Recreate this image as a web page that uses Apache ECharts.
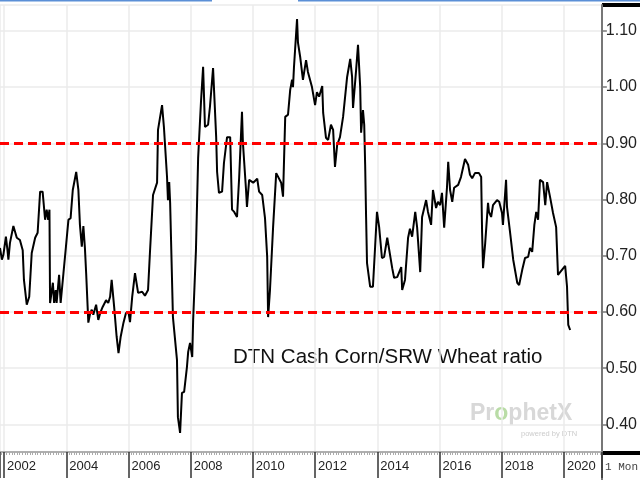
<!DOCTYPE html>
<html>
<head>
<meta charset="utf-8">
<script src="https://cdn.jsdelivr.net/npm/echarts@6/dist/echarts.min.js"></script>
<style>
html,body{margin:0;padding:0;background:#fff;}
#c{width:640px;height:480px;}
</style>
</head>
<body>
<div id="c"></div>
<script>
// Dates as decimal years
const dates = [
  2001.87,2001.93,2001.98,2002.06,2002.11,2002.14,2002.19,2002.30,2002.41,2002.51,2002.60,2002.64,2002.73,2002.81,2002.89,
  2003.00,2003.08,2003.16,2003.24,2003.32,2003.37,2003.42,2003.46,2003.48,2003.57,2003.61,2003.66,2003.69,2003.77,2003.82,2003.91,2003.99,
  2004.07,2004.14,2004.21,2004.32,2004.39,2004.44,2004.50,2004.55,2004.60,2004.64,2004.71,2004.77,2004.82,2004.87,2004.96,
  2005.03,2005.09,2005.17,2005.28,2005.35,2005.41,2005.46,2005.54,2005.62,2005.68,2005.75,2005.84,2005.92,2006.00,
  2006.05,2006.12,2006.21,2006.31,2006.44,2006.53,2006.63,2006.69,2006.79,2006.92,2006.95,
  2007.08,2007.14,2007.24,2007.27,2007.31,2007.34,2007.43,2007.56,2007.59,2007.66,2007.72,2007.79,2007.88,2007.92,2007.98,
  2008.05,2008.08,2008.17,2008.24,2008.33,2008.40,2008.46,2008.56,2008.62,2008.72,2008.82,2008.85,2008.91,
  2009.01,2009.07,2009.17,2009.27,2009.33,2009.40,2009.49,2009.56,2009.65,2009.68,2009.78,2009.81,2009.88,2010.01,
  2010.14,2010.20,2010.30,2010.39,2010.46,2010.49,2010.55,2010.65,2010.75,2010.81,2010.91,2010.97,
  2011.04,2011.13,2011.20,2011.26,2011.29,2011.32,2011.42,2011.45,2011.52,2011.61,2011.71,2011.77,2011.90,
  2012.00,2012.06,2012.13,2012.23,2012.26,2012.35,2012.42,2012.51,2012.58,2012.64,2012.71,2012.80,2012.90,
  2013.03,2013.13,2013.19,2013.22,2013.32,2013.38,2013.45,2013.48,2013.54,2013.58,2013.61,2013.64,2013.67,2013.77,2013.86,2013.93,2013.99,
  2014.06,2014.15,2014.22,2014.32,2014.38,2014.48,2014.54,2014.64,2014.70,2014.77,2014.80,2014.89,2014.99,
  2015.05,2015.12,2015.22,2015.28,2015.38,2015.44,2015.57,2015.63,2015.73,2015.79,2015.89,2015.95,
  2016.02,2016.08,2016.15,2016.24,2016.28,2016.34,2016.41,2016.47,2016.60,2016.69,2016.82,2016.92,2016.98,
  2017.05,2017.14,2017.27,2017.34,2017.37,2017.40,2017.47,2017.56,2017.59,2017.66,2017.72,2017.85,2017.92,
  2018.01,2018.04,2018.14,2018.17,2018.27,2018.37,2018.50,2018.56,2018.66,2018.75,2018.85,2018.91,2018.98,
  2019.05,2019.11,2019.17,2019.23,2019.33,2019.40,2019.46,2019.56,2019.65,2019.75,2019.81,2019.88,2019.94,
  2020.04,2020.10,2020.14,2020.20
];
// DTN cash corn / SRW wheat ratio
const ratio = [
  0.714,0.693,0.702,0.734,0.710,0.693,0.723,0.753,0.732,0.728,0.710,0.657,0.613,0.627,0.705,
  0.732,0.741,0.814,0.814,0.764,0.782,0.764,0.782,0.616,0.652,0.616,0.639,0.616,0.666,0.616,0.669,0.716,
  0.764,0.767,0.817,0.849,0.817,0.755,0.716,0.753,0.714,0.669,0.581,0.598,0.604,0.595,0.613,
  0.586,0.598,0.609,0.621,0.616,0.627,0.657,0.609,0.556,0.527,0.556,0.581,0.598,0.600,
  0.582,0.627,0.669,0.634,0.636,0.629,0.639,0.705,0.808,0.830,0.924,
  0.968,0.929,0.840,0.799,0.831,0.794,0.591,0.515,0.413,0.385,0.456,0.458,0.502,0.529,0.545,
  0.520,0.586,0.710,0.874,0.972,1.036,0.929,0.933,0.965,1.034,0.911,0.849,0.812,
  0.814,0.865,0.911,0.911,0.782,0.778,0.769,0.840,0.956,0.901,0.817,0.787,0.835,0.830,
  0.837,0.814,0.808,0.767,0.698,0.591,0.639,0.751,0.847,0.847,0.830,0.805,
  0.947,0.951,0.995,1.013,1.000,1.034,1.121,1.079,1.054,1.013,1.048,1.027,1.000,
  0.968,0.991,0.983,1.002,0.954,0.910,0.906,0.933,0.924,0.858,0.897,0.911,0.947,
  1.018,1.050,1.018,0.963,1.031,1.075,1.000,0.919,0.959,0.933,0.862,0.769,0.687,0.645,0.645,0.716,0.778,
  0.751,0.696,0.698,0.732,0.732,0.678,0.661,0.662,0.661,0.680,0.639,0.657,0.732,
  0.748,0.734,0.778,0.751,0.671,0.769,0.799,0.778,0.755,0.817,0.785,0.796,
  0.790,0.812,0.750,0.821,0.867,0.817,0.796,0.821,0.826,0.840,0.872,0.862,0.844,
  0.838,0.847,0.847,0.840,0.741,0.678,0.723,0.794,0.778,0.769,0.790,0.799,0.796,
  0.776,0.755,0.835,0.787,0.741,0.693,0.652,0.648,0.675,0.696,0.698,0.714,0.707,
  0.755,0.778,0.764,0.835,0.831,0.790,0.831,0.803,0.776,0.751,0.666,0.671,0.669,
  0.682,0.645,0.577,0.568
];
const refLines = [0.90, 0.60];
const chartLabel = 'DTN Cash Corn/SRW Wheat ratio';
const periodLabel = '1 Mon';

const narrow = "'Liberation Sans Narrow','Arial Narrow','Liberation Sans',Arial,sans-serif";
const lastVal = ratio[ratio.length - 1];

const chart = echarts.init(document.getElementById('c'));
const markData = refLines.map(v => ({
  yAxis: v,
  lineStyle: {color: '#ff0000', type: [9, 5], width: 3},
  label: {show: false}
}));
markData.push({
  yAxis: lastVal,
  lineStyle: {opacity: 0, width: 0},
  label: {
    show: true, position: 'end', distance: 1,
    formatter: () => lastVal.toFixed(2),
    backgroundColor: '#000', color: '#fff',
    fontFamily: narrow, fontSize: 16, padding: [2, 2, 1, 2]
  }
});

chart.setOption({
  animation: false,
  backgroundColor: '#fff',
  grid: {left: 0, right: 38, top: 5, bottom: 28, containLabel: false},
  xAxis: {
    type: 'value', min: 2001.87, max: 2021.22, splitNumber: 10,
    axisLine: {show: true, onZero: false, lineStyle: {color: '#999', width: 1.5}},
    axisTick: {show: true, length: 26, lineStyle: {color: '#333', width: 1.5}},
    minorTick: {show: true, splitNumber: 24, length: 3, lineStyle: {color: '#aaa', width: 1}},
    axisLabel: {
      show: true, align: 'left', margin: 8, padding: [0, 0, 0, 3],
      color: '#222', fontFamily: narrow, fontSize: 13,
      showMinLabel: false, showMaxLabel: false,
      formatter: v => String(Math.round(v))
    },
    splitLine: {show: true, lineStyle: {color: '#ebebeb', width: 1.5}}
  },
  yAxis: {
    type: 'value', position: 'right', min: 0.351, max: 1.146, splitNumber: 8,
    axisLine: {show: true, lineStyle: {color: '#777', width: 2}},
    axisTick: {show: true, length: 5, lineStyle: {color: '#777', width: 1.5}},
    axisLabel: {
      show: true, margin: 4, color: '#222', fontFamily: narrow, fontSize: 16,
      showMinLabel: false, showMaxLabel: false,
      formatter: v => v.toFixed(2)
    },
    splitLine: {show: true, lineStyle: {color: '#ebebeb', width: 1.5}}
  },
  series: [{
    type: 'line',
    data: dates.map((d, i) => [d, ratio[i]]),
    showSymbol: false,
    lineStyle: {color: '#000', width: 2},
    z: 3,
    markLine: {silent: true, symbol: 'none', data: markData, z: 4}
  }],
  graphic: [
    {type: 'line', shape: {x1: 0, y1: 0.75, x2: 212, y2: 0.75}, style: {stroke: '#5b8fd6', lineWidth: 1.5}, silent: true},
    {type: 'line', shape: {x1: 298, y1: 0.75, x2: 640, y2: 0.75}, style: {stroke: '#5b8fd6', lineWidth: 1.5}, silent: true},
    {type: 'rect', shape: {x: 602, y: 3, width: 38, height: 4}, style: {fill: '#000'}, silent: true},
    {type: 'rect', shape: {x: 602, y: 451, width: 38, height: 4}, style: {fill: '#000'}, silent: true},
    {type: 'line', shape: {x1: 602, y1: 452, x2: 602, y2: 480}, style: {stroke: '#777', lineWidth: 2}, silent: true},
    {type: 'text', x: 233, y: 357, silent: true,
      style: {text: chartLabel, font: "20.5px 'Liberation Sans',Arial,sans-serif", fill: '#111', textVerticalAlign: 'middle'}},
    {type: 'text', x: 470, y: 414, silent: true,
      style: {text: '{a|Pr}{b|o}{a|phetX}', textVerticalAlign: 'middle',
        rich: {
          a: {fontFamily: "'Liberation Sans',Arial,sans-serif", fontWeight: 'bold', fontSize: 23, fill: '#d8d8d8'},
          b: {fontFamily: "'Liberation Sans',Arial,sans-serif", fontWeight: 'bold', fontSize: 23, fill: '#b9dca6'}
        }}},
    {type: 'text', x: 521, y: 434, silent: true,
      style: {text: 'powered by DTN', font: "7.5px 'Liberation Sans',Arial,sans-serif", fill: '#cccccc', textVerticalAlign: 'middle'}},
    {type: 'text', x: 605, y: 467, silent: true,
      style: {text: periodLabel, font: "11px 'Liberation Mono','DejaVu Sans Mono',monospace", fill: '#444', textVerticalAlign: 'middle'}}
  ]
});
</script>
</body>
</html>
